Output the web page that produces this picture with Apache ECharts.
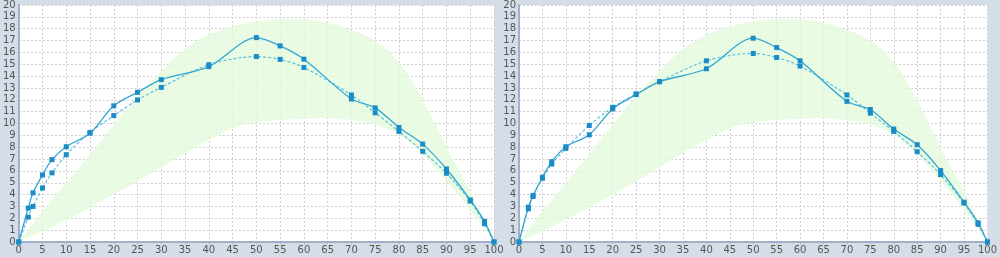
<!DOCTYPE html>
<html><head><meta charset="utf-8">
<script src="https://cdn.jsdelivr.net/npm/echarts@6/dist/echarts.min.js"></script>
<style>html,body{margin:0;padding:0;background:#d5dde9}#c{width:1000px;height:257px}</style>
</head><body><div id="c"></div>
<script>
// Data
const xTicks = [0,5,10,15,20,25,30,35,40,45,50,55,60,65,70,75,80,85,90,95,100];
const pointX = [0,2,3,5,7,10,15,20,25,30,40,50,55,60,70,75,80,85,90,95,98,100];
const leftSolid  = [0,2.86,4.15,5.66,6.95,8.04,9.18,11.49,12.63,13.7,14.8,17.25,16.55,15.43,12.07,11.32,9.67,8.26,6.16,3.55,1.74,0];
const leftDashed = [0,2.1,3.0,4.56,5.83,7.37,9.24,10.67,11.99,13.05,14.96,15.65,15.41,14.73,12.41,10.9,9.33,7.65,5.8,3.45,1.54,0];
const rightSolid  = [0,2.94,3.92,5.46,6.78,8.04,9.05,11.23,12.44,13.53,14.62,17.2,16.41,15.29,11.87,11.18,9.53,8.21,6.03,3.36,1.62,0];
const rightDashed = [0,2.8,3.84,5.38,6.58,7.9,9.83,11.37,12.5,13.53,15.29,15.91,15.57,14.85,12.41,10.87,9.33,7.62,5.69,3.28,1.49,0];
const bandX     = [0,5,10,15,20,25,30,35,40,45,50,55,60,65,70,75,80,85,90,95,100];
const bandLower = [0,0.9,1.9,2.9,4.0,5.1,6.3,7.5,8.6,9.6,10.1,10.3,10.4,10.45,10.3,9.9,9.1,7.4,5.2,2.7,0];
const bandUpper = [0,2.6,5.0,7.4,9.9,12.3,14.4,16.3,17.5,18.2,18.6,18.8,18.8,18.5,17.9,17.0,15.2,12.0,8.0,4.3,0];

const pairs = (xs, ys) => xs.map((x,i)=>[x, ys[i]]);

const font = 'DejaVu Sans';
function axes(idx){
  return {
    x: {type:'value', gridIndex:idx, min:0, max:100, interval:5,
        axisLine:{show:true, lineStyle:{color:'#9fb0c8', width:2}},
        axisTick:{show:true, length:2, lineStyle:{color:'#9fb0c8'}},
        axisLabel:{color:'#555', fontSize:10, fontFamily:font, margin:3},
        splitLine:{show:true, lineStyle:{color:'#cfcfcf', type:[2,2], width:1}}},
    y: {type:'value', gridIndex:idx, min:0, max:20, interval:1,
        axisLine:{show:true, lineStyle:{color:'#9fb0c8', width:2}},
        axisTick:{show:false},
        axisLabel:{color:'#555', fontSize:10, fontFamily:font, margin:3},
        splitLine:{show:true, lineStyle:{color:'#cfcfcf', type:[2,2], width:1}}}
  };
}
const a0 = axes(0), a1 = axes(1);
function bandSeries(idx){
  return {type:'custom', xAxisIndex:idx, yAxisIndex:idx, data:[[0,0]], silent:true, z:1, clip:true,
    renderItem:function(params, api){
      const up = bandX.map((x,i)=>api.coord([x, bandUpper[i]]));
      const lo = bandX.map((x,i)=>api.coord([x, bandLower[i]])).reverse();
      return {type:'group', children:[
        {type:'polygon', shape:{points: up.concat(lo), smooth:0.35}, style:{fill:'#e4fadc', opacity:0.8, stroke:null}}
      ]};
    }};
}
function lineSeries(idx, ys, dashed){
  return {type:'line', xAxisIndex:idx, yAxisIndex:idx, data:pairs(pointX, ys), smooth:0.3,
    symbol:'rect', symbolSize:5, showAllSymbol:true,
    itemStyle:{color:'#1a8dc9'},
    lineStyle:{color: dashed ? '#5cc0e2' : '#33a6d4', width: dashed?1.2:1.3, type: dashed ? [3,2] : 'solid'}, z:3};
}
const chart = echarts.init(document.getElementById('c'), null, {renderer:'canvas'});
chart.setOption({
  animation:false,
  backgroundColor:'#d5dde9',
  grid:[
    {left:16, right:506, top:4, bottom:15, show:true, backgroundColor:'#fff', borderWidth:0, containLabel:false},
    {left:519, right:4, top:4, bottom:15, show:true, backgroundColor:'#fff', borderWidth:0, containLabel:false}
  ],
  xAxis:[a0.x, a1.x],
  yAxis:[a0.y, a1.y],
  series:[
    bandSeries(0), bandSeries(1),
    lineSeries(0, leftDashed, true), lineSeries(0, leftSolid, false),
    lineSeries(1, rightDashed, true), lineSeries(1, rightSolid, false)
  ]
});
</script></body></html>
